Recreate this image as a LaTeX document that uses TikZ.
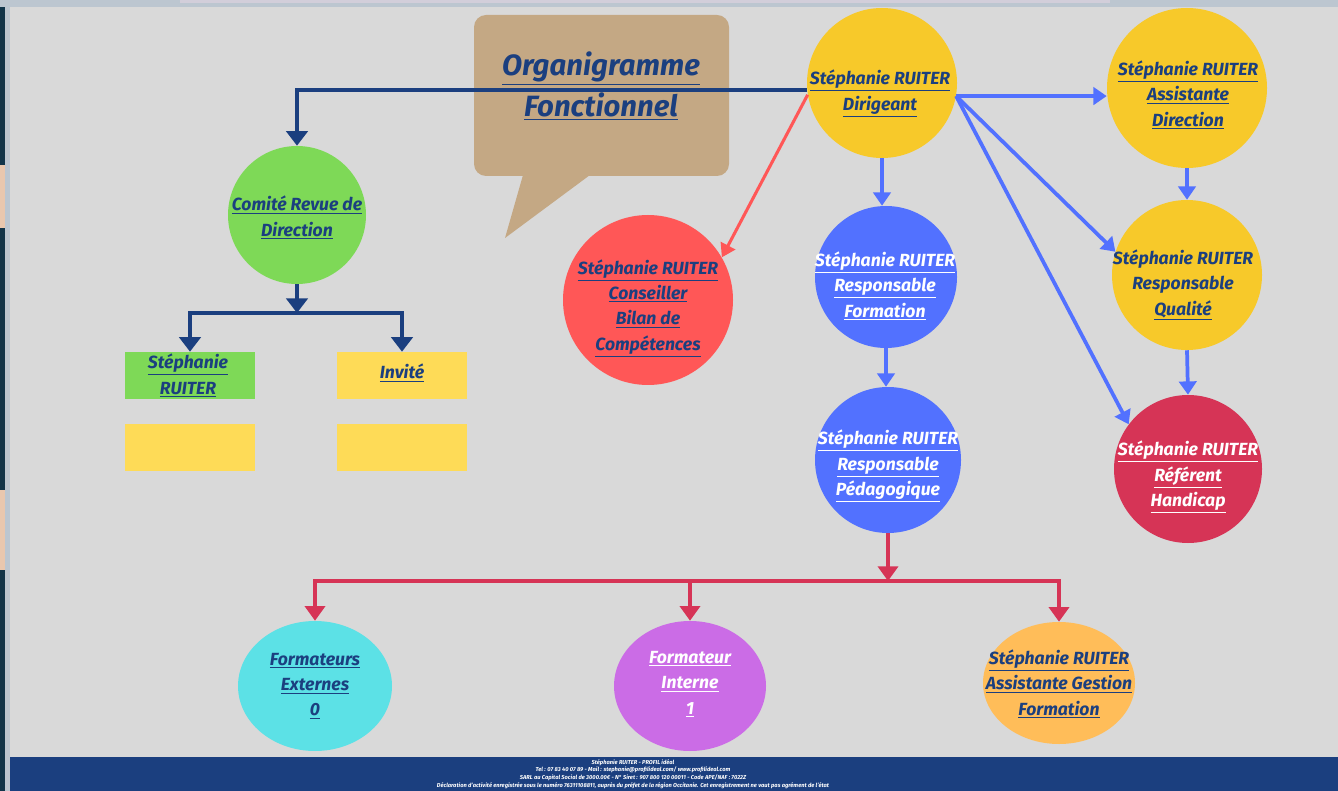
\documentclass[tikz,border=0pt]{standalone}
\usepackage{fontspec}
\setmainfont{Fira Sans}
\usetikzlibrary{arrows.meta,shapes.geometric}
\definecolor{bgc}{HTML}{D9D9D9}
\definecolor{navy}{HTML}{1B3F7F}
\definecolor{topstrip}{HTML}{BCC6D0}
\definecolor{toppink}{HTML}{D2CEDA}
\definecolor{leftdark}{HTML}{12354A}
\definecolor{peach}{HTML}{E9C7AE}
\definecolor{tan}{HTML}{C4A884}
\definecolor{green}{HTML}{7ED957}
\definecolor{ylw}{HTML}{F7C92A}
\definecolor{ybox}{HTML}{FEDB57}
\definecolor{salmon}{HTML}{FF5757}
\definecolor{bluec}{HTML}{5271FF}
\definecolor{crimson}{HTML}{D63456}
\definecolor{cyanc}{HTML}{5CE1E6}
\definecolor{purp}{HTML}{CB6CE6}
\definecolor{orng}{HTML}{FFBD59}
\newcommand{\myul}[1]{\underline{#1}}
\begin{document}
\begin{tikzpicture}[x=0.75pt,y=-0.75pt,
  circ/.style={circle,inner sep=0pt,minimum size=#1},
  ell/.style 2 args={ellipse,inner sep=0pt,minimum width=#1,minimum height=#2},
  boxn/.style={rectangle,inner sep=0pt,minimum width=97.5pt,minimum height=35.25pt},
  lbl/.style={font=\fontsize{13.2}{19}\selectfont\bfseries\itshape,align=center,inner sep=0pt,text=navy},
  wlbl/.style={lbl,text=white},
  navyarr/.style={draw=navy,line width=3pt,-{Triangle[width=16pt,length=11pt]}},
  bluearr/.style={draw=bluec,line width=2.8pt,-{Triangle[width=13pt,length=10pt]}},
  redarr/.style={draw=crimson,line width=3pt,-{Triangle[width=15pt,length=11pt]}},
  saltarr/.style={draw=salmon,line width=2.3pt,-{Triangle[width=12pt,length=10pt]}}]
\useasboundingbox (0,0) rectangle (1338,791);
% background
\fill[topstrip] (0,0) rectangle (1338,791);
\fill[toppink] (180,0) rectangle (1110,3);
\fill[leftdark] (0,7) rectangle (5,791);
\fill[peach] (0,165) rectangle (5,228);
\fill[peach] (0,490) rectangle (5,570);
\fill[bgc] (10,7) rectangle (1338,757);
\fill[navy] (10,757) rectangle (1338,791);
% footer
\node[font=\fontsize{4.3}{5.7}\selectfont\bfseries\itshape,text=white,align=center,inner sep=0pt] (foot) at (633,774)
 {Stéphanie RUITER - PROFIL idéal\\
  Tel : 07 83 40 07 89 - Mail : stephanie@profilideal.com/ www.profilideal.com\\
  SARL au Capital Social de 3000.00€ - N° Siret : 907 800 120 00011 - Code APE/NAF : 7022Z\\
  Déclaration d'activité enregistrée sous le numéro 76311108811, auprès du préfet de la région Occitanie. Cet enregistrement ne vaut pas agrément de l'état};
% speech bubble
\fill[tan,rounded corners=9pt] (474,15) rectangle (729,176);
\fill[tan] (523,175) -- (590,175) -- (505,238) -- cycle;
\node[font=\fontsize{22}{31}\selectfont\bfseries\itshape,text=navy,align=center,inner sep=0pt] (title) at (601,86)
 {\myul{Organigramme}\\\myul{Fonctionnel}};
% circles
\node[circ=112.5pt,fill=ylw] (dir) at (882,83) {};
\node[circ=120pt,fill=ylw] (assist) at (1187,88) {};
\node[circ=112.5pt,fill=ylw] (qual) at (1187,275) {};
\node[circ=111pt,fill=crimson] (hand) at (1188,469) {};
\node[circ=106.5pt,fill=bluec] (form) at (886,277) {};
\node[circ=109.5pt,fill=bluec] (peda) at (888,460) {};
\node[circ=127.5pt,fill=salmon] (cons) at (648,300) {};
\node[circ=103.5pt,fill=green] (comite) at (297,215) {};
\node[ell={115.5pt}{97.5pt},fill=cyanc] (fext) at (315,686) {};
\node[ell={114pt}{97.5pt},fill=purp] (fint) at (690,686) {};
\node[ell={114pt}{91.5pt},fill=orng] (fges) at (1059,683) {};
\node[boxn,fill=green] (boxS) at (190,375.5) {};
\node[boxn,fill=ybox] (boxI) at (402,375.5) {};
\node[boxn,fill=ybox] (boxS2) at (190,447) {};
\node[boxn,fill=ybox] (boxI2) at (402,447.5) {};
% labels
\node[lbl] (dirT) at (880,93.5) {\myul{Stéphanie RUITER}\\\myul{Dirigeant}};
\node[lbl] (assistT) at (1188,95) {\myul{Stéphanie RUITER}\\\myul{Assistante}\\\myul{Direction}};
\node[lbl] (qualT) at (1183,285) {Stéphanie RUITER\\Responsable\\\myul{Qualité}};
\node[wlbl] (handT) at (1188,477) {\myul{Stéphanie RUITER}\\\myul{Référent}\\\myul{Handicap}};
\node[wlbl] (formT) at (885,286) {\myul{Stéphanie RUITER}\\\myul{Responsable}\\\myul{Formation}};
\node[wlbl] (pedaT) at (888,466) {\myul{Stéphanie RUITER}\\\myul{Responsable}\\\myul{Pédagogique}};
\node[lbl] (consT) at (648,308) {\myul{Stéphanie RUITER}\\\myul{Conseiller}\\\myul{Bilan de}\\\myul{Compétences}};
\node[lbl] (comiteT) at (297,217.5) {\myul{Comité Revue de}\\\myul{Direction}};
\node[lbl] (boxST) at (188,375.5) {\myul{Stéphanie}\\\myul{RUITER}};
\node[lbl] (boxIT) at (402,373) {\myul{Invité}};
\node[lbl] (fextT) at (315,686) {\myul{Formateurs}\\\myul{Externes}\\\myul{0}};
\node[wlbl] (fintT) at (690,684) {\myul{Formateur}\\\myul{Interne}\\\myul{1}};
\node[lbl] (fgesT) at (1059,684) {\myul{Stéphanie RUITER}\\\myul{Assistante Gestion}\\\myul{Formation}};
% connectors
\draw[navyarr] (dir.185) -| (comite.north);
\coordinate (cj) at (297,313);
\draw[navyarr] (comite.south) -- (cj);
\draw[navyarr] (cj) -| (boxS.north);
\draw[navyarr] (cj) -| (boxI.north);
\draw[saltarr] (dir.189) -- (cons.30);
\draw[bluearr] (dir.south) -- (dir.south |- form.north);
\draw[bluearr] (form.south) -- (form.south |- peda.north);
\draw[bluearr] (dir.-10) -- (dir.-10 -| assist.west);
\draw[bluearr] (dir.-10) -- (qual.162);
\draw[bluearr] (dir.-10) -- (hand.143);
\draw[bluearr] (assist.south) -- (qual.north);
\draw[bluearr] (qual.south) -- (hand.north);
\coordinate (pj) at (888,581);
\draw[redarr] (peda.south) -- (pj);
\draw[redarr] (pj) -| (fext.north);
\draw[redarr] (pj) -| (fint.north);
\draw[redarr] (pj) -| (fges.north);
\end{tikzpicture}
\end{document}
